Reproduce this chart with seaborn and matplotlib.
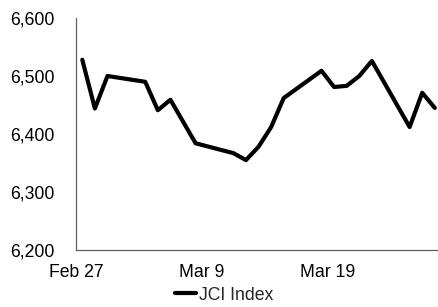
import numpy as np
import pandas as pd
import matplotlib
matplotlib.use("Agg")
import matplotlib.pyplot as plt
import matplotlib.dates as mdates
import seaborn as sns

sns.set_style("white")
plt.rcParams['font.family'] = ['Liberation Sans', 'DejaVu Sans']
plt.rcParams['font.size'] = 12.7

# JCI closing levels, trading days only (Mar 7 holiday)
dates = ["2019-02-27", "2019-02-28", "2019-03-01", "2019-03-04", "2019-03-05",
         "2019-03-06", "2019-03-08", "2019-03-11", "2019-03-12", "2019-03-13",
         "2019-03-14", "2019-03-15", "2019-03-18", "2019-03-19", "2019-03-20",
         "2019-03-21", "2019-03-22", "2019-03-25", "2019-03-26", "2019-03-27"]
jci = [6528, 6444, 6500, 6490, 6441, 6459, 6384, 6367, 6355, 6378,
       6412, 6462, 6509, 6481, 6483, 6500, 6526, 6412, 6471, 6445]
tick_dates = ["2019-02-27", "2019-03-09", "2019-03-19"]
tick_labels = ["Feb 27", "Mar 9", "Mar 19"]
y_ticks = [6200, 6300, 6400, 6500, 6600]

df = pd.DataFrame({"date": pd.to_datetime(dates), "JCI Index": jci})

fig = plt.figure(figsize=(4.39, 3.07), dpi=100)
ax = fig.add_axes([76/439, 1 - 250/307, 1 - 76/439, (250 - 18)/307])
sns.lineplot(data=df, x="date", y="JCI Index", color="black", linewidth=3.0,
             ax=ax, label="JCI Index", legend=False)

# Excel-style date axis: points sit in the middle of each day slot
half = pd.Timedelta(hours=12)
tpos = [mdates.date2num(pd.Timestamp(d) - half) for d in tick_dates]
ax.set_xticks(tpos)
ax.set_xticklabels(tick_labels)
ax.set_xlim(mdates.date2num(df["date"].iloc[0] - half),
            mdates.date2num(df["date"].iloc[-1] + pd.Timedelta(hours=8)))
ax.set_ylim(6200, 6600)
ax.set_yticks(y_ticks)
ax.set_yticklabels([f"{v:,}" for v in y_ticks])
ax.set_xlabel("")
ax.set_ylabel("")

for s in ["top", "right"]:
    ax.spines[s].set_visible(False)
for s in ["left", "bottom"]:
    ax.spines[s].set_color("#606060")
    ax.spines[s].set_linewidth(0.9)
ax.tick_params(axis="both", direction="out", length=4, width=0.9, color="#606060",
               labelcolor="black")
ax.tick_params(axis="y", pad=11.5)
ax.tick_params(axis="x", pad=6)

handles, labels = ax.get_legend_handles_labels()
fig.legend(handles, labels, loc="center", bbox_to_anchor=(224/439, 1 - 295/307),
           frameon=False, handlelength=1.2, handletextpad=0.15,
           borderpad=0, borderaxespad=0)

fig.savefig("out.png", dpi=100)
